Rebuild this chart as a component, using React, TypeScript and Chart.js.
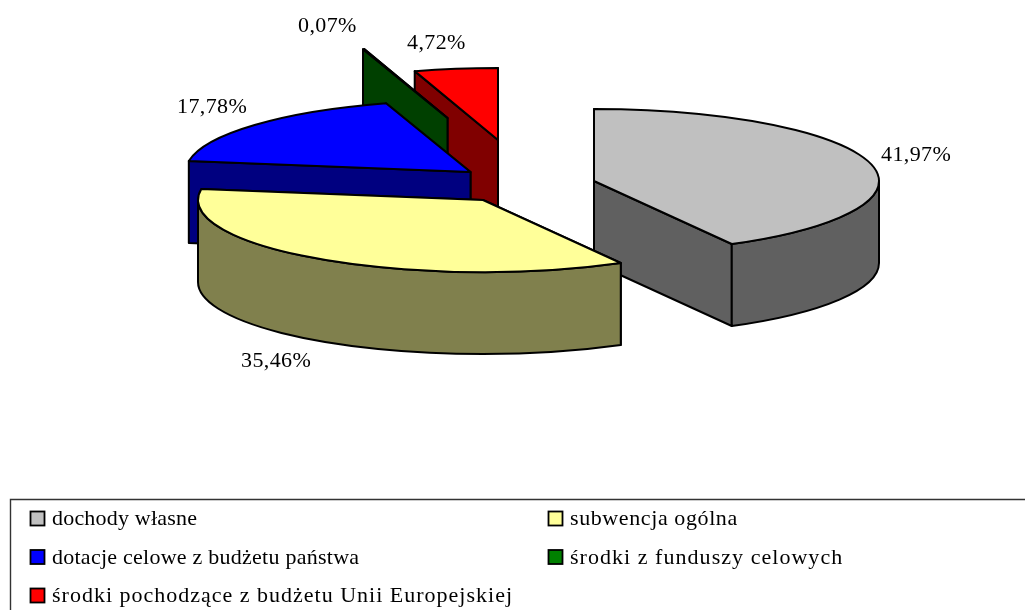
import React, { useEffect, useRef } from "react";
import { Chart, registerables } from "chart.js";

Chart.register(...registerables);

const categories = [
  "dochody własne",
  "subwencja ogólna",
  "dotacje celowe z budżetu państwa",
  "środki z funduszy celowych",
  "środki pochodzące z budżetu Unii Europejskiej",
];
const shares = [41.97, 35.46, 17.78, 0.07, 4.72];
const topColors = ["#C0C0C0", "#FFFF99", "#0000FF", "#008000", "#FF0000"];
const wallColors = ["#606060", "#80804D", "#000080", "#004000", "#800000"];

// styling of the 3D look
const RADIUS = 285;
const TILT = 72 / 285;
const DEPTH = 82;
const PAINT_ORDER = [4, 3, 2, 0, 1];
const EXPLODE_X = [81.5, -29.5, -42, -65, -14.5];
const EXPLODE_Y = [-124, -105, -133, -187, -165];
const LABEL_X = [881, 241, 177, 298, 407];
const LABEL_Y = [161, 367, 113, 32, 49];
const LEGEND_SPACING = ["0.2px", "0.6px", "0.25px", "1.04px", "1px"];
const FONT = '22px "Liberation Serif"';

const pie3d = {
  id: "pie3d",
  beforeDatasetDraw() {
    return false;
  },
  afterDatasetsDraw(chart: any) {
    const ctx: CanvasRenderingContext2D = chart.ctx;
    const arcs = chart.getDatasetMeta(0).data;
    ctx.save();
    ctx.lineWidth = 2;
    ctx.lineJoin = "round";
    ctx.strokeStyle = "#000";
    const paint = (fill: string) => {
      ctx.fillStyle = fill;
      ctx.fill();
      ctx.stroke();
    };
    for (const i of PAINT_ORDER) {
      const el = arcs[i];
      const cx = el.x + EXPLODE_X[i];
      const cy = el.y + EXPLODE_Y[i];
      const R = el.outerRadius;
      const r = R * TILT;
      const a0 = el.startAngle;
      const a1 = el.endAngle;
      const pt = (a: number) => [cx + R * Math.cos(a), cy + r * Math.sin(a)];

      // radial walls, back ones first
      const walls = [a0, a1].sort((p, q) => pt(p)[1] - pt(q)[1]);
      for (const a of walls) {
        const [x, y] = pt(a);
        ctx.beginPath();
        ctx.moveTo(cx, cy);
        ctx.lineTo(x, y);
        ctx.lineTo(x, y + DEPTH);
        ctx.lineTo(cx, cy + DEPTH);
        ctx.closePath();
        paint(wallColors[i]);
      }

      // rim: only the part of the arc facing the viewer (0..PI on canvas)
      const twoPi = Math.PI * 2;
      for (let k = -1; k <= 1; k++) {
        const s = Math.max(a0, k * twoPi);
        const e = Math.min(a1, k * twoPi + Math.PI);
        if (e > s) {
          const [sx, sy] = pt(s);
          const [ex, ey] = pt(e);
          ctx.beginPath();
          ctx.moveTo(sx, sy);
          ctx.ellipse(cx, cy, R, r, 0, s, e);
          ctx.lineTo(ex, ey + DEPTH);
          ctx.ellipse(cx, cy + DEPTH, R, r, 0, e, s, true);
          ctx.closePath();
          paint(wallColors[i]);
        }
      }

      // top face
      ctx.beginPath();
      ctx.moveTo(cx, cy);
      ctx.ellipse(cx, cy, R, r, 0, a0, a1);
      ctx.closePath();
      paint(topColors[i]);
    }
    ctx.restore();
  },
  afterDraw(chart: any) {
    const ctx: CanvasRenderingContext2D = chart.ctx;
    const labels: string[] = chart.data.labels;
    const values: number[] = chart.data.datasets[0].data;
    ctx.save();
    ctx.font = FONT;
    ctx.fillStyle = "#000";
    ctx.textBaseline = "alphabetic";
    ctx.textAlign = "left";

    (ctx as any).letterSpacing = "0.4px";
    values.forEach((v, i) => {
      ctx.fillText(v.toFixed(2).replace(".", ",") + "%", LABEL_X[i], LABEL_Y[i]);
    });

    // legend frame: top and left sides only reach the picture's edge
    ctx.strokeStyle = "#333";
    ctx.lineWidth = 1.4;
    ctx.beginPath();
    ctx.moveTo(10.5, 610);
    ctx.lineTo(10.5, 499.5);
    ctx.lineTo(1025, 499.5);
    ctx.stroke();

    labels.forEach((label, i) => {
      const col = i % 2;
      const row = Math.floor(i / 2);
      const x = col === 0 ? 30.5 : 548.5;
      const y = 511.5 + row * 38.5;
      ctx.fillStyle = topColors[i];
      ctx.fillRect(x, y, 14, 14);
      ctx.strokeStyle = "#000";
      ctx.lineWidth = 1.8;
      ctx.strokeRect(x, y, 14, 14);
      ctx.fillStyle = "#000";
      (ctx as any).letterSpacing = LEGEND_SPACING[i];
      ctx.fillText(label, x + 21.5, 525 + row * 38.5);
    });
    ctx.restore();
  },
};

export default function App() {
  const ref = useRef<HTMLCanvasElement>(null);
  useEffect(() => {
    const chart = new Chart(ref.current!, {
      type: "pie",
      data: {
        labels: categories,
        datasets: [{ data: shares, backgroundColor: topColors, radius: RADIUS } as any],
      },
      options: {
        animation: false,
        responsive: false,
        plugins: { legend: { display: false }, tooltip: { enabled: false } },
      },
      plugins: [pie3d as any],
    });
    return () => chart.destroy();
  }, []);
  return (
    <div style={{ position: "fixed", left: 0, top: 0, width: 1025, height: 610, background: "#fff" }}>
      <canvas ref={ref} width={1025} height={610} style={{ display: "block" }} />
    </div>
  );
}
